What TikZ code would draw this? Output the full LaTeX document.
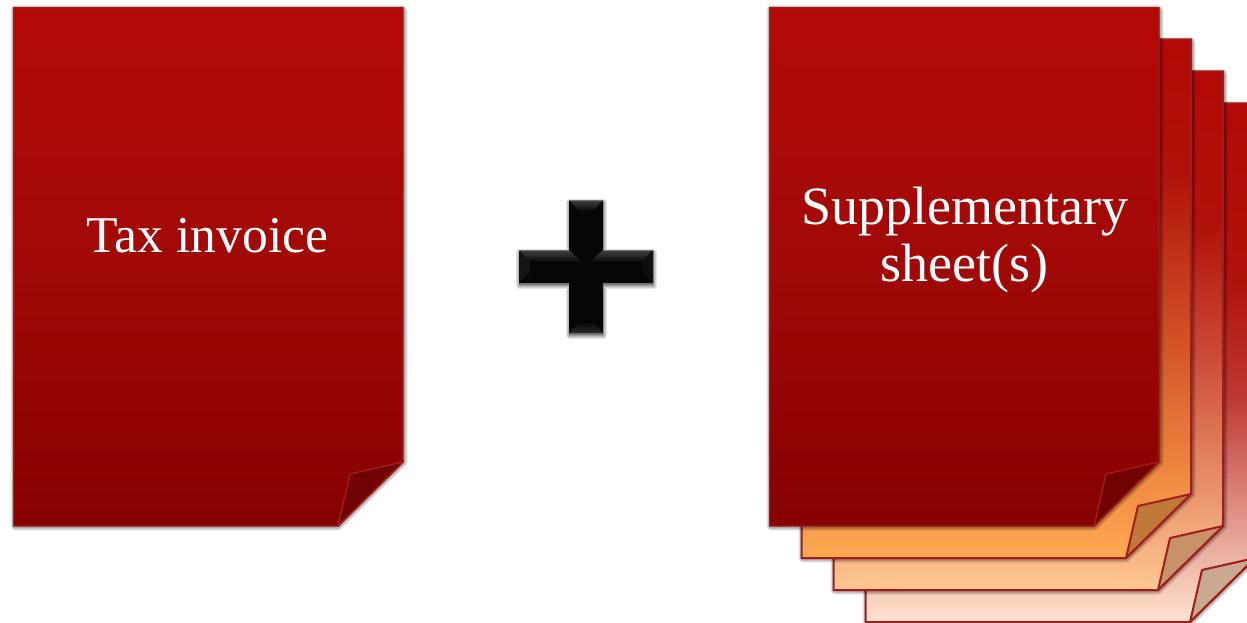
\documentclass[tikz,border=0pt]{standalone}
\usepackage{fontspec}
\setmainfont{Liberation Serif}
\definecolor{topRed}{RGB}{180,9,6}
\definecolor{nearRed}{RGB}{176,18,10}
\definecolor{midA}{RGB}{160,9,7}
\definecolor{botA}{RGB}{134,1,1}
\definecolor{botB}{RGB}{255,170,82}
\definecolor{midB}{RGB}{208,78,36}
\definecolor{botC}{RGB}{255,200,146}
\definecolor{midC}{RGB}{205,78,58}
\definecolor{botD}{RGB}{255,228,208}
\definecolor{midD}{RGB}{190,55,50}
\definecolor{bevLight}{RGB}{66,66,66}
\definecolor{bevLow}{RGB}{44,44,44}
\definecolor{bevDark}{RGB}{6,6,6}
\pgfdeclareverticalshading{sheetA}{100bp}{color(0bp)=(botA); color(25bp)=(botA); color(50bp)=(midA); color(75bp)=(topRed); color(100bp)=(topRed)}
\pgfdeclareverticalshading{sheetB}{100bp}{color(0bp)=(botB); color(25bp)=(botB); color(47bp)=(midB); color(62bp)=(nearRed); color(75bp)=(topRed); color(100bp)=(topRed)}
\pgfdeclareverticalshading{sheetC}{100bp}{color(0bp)=(botC); color(25bp)=(botC); color(47bp)=(midC); color(60bp)=(nearRed); color(75bp)=(topRed); color(100bp)=(topRed)}
\pgfdeclareverticalshading{sheetD}{100bp}{color(0bp)=(botD); color(25bp)=(botD); color(47bp)=(midD); color(58bp)=(nearRed); color(75bp)=(topRed); color(100bp)=(topRed)}
\pgfdeclareverticalshading{bevelDown}{100bp}{color(0bp)=(bevDark); color(25bp)=(bevDark); color(75bp)=(bevLight); color(100bp)=(bevLight)}
\pgfdeclareverticalshading{bevelUp}{100bp}{color(0bp)=(bevLow); color(25bp)=(bevLow); color(75bp)=(bevDark); color(100bp)=(bevDark)}
\definecolor{edgeRed}{RGB}{163,28,28}
\definecolor{foldA}{RGB}{112,1,1}
\definecolor{foldB}{RGB}{192,120,56}
\definecolor{foldC}{RGB}{200,146,104}
\definecolor{foldD}{RGB}{200,168,144}
\tikzset{
  labeltext/.style={text=white,align=center,inner sep=0pt},
  softshadow/.style={fill=black,draw=black,line join=round,opacity=.1},
}
% #1 x, #2 y of the top-left corner, #3 shading, #4 fold colour, #5 line width
\newcommand{\papersheet}[5]{%
  \begin{scope}[shift={(#1,#2)}]
    \foreach \w in {9,7,5,3,1}{
      \path[softshadow,line width=\w pt] (2,3) -- (390,3) -- (390,455) -- (325,519) -- (2,519) -- cycle;
    }
    \path[shading=#3,draw=edgeRed,line width=#5pt,line join=miter] (0.5,0.5) -- (390,0.5) -- (390,455) -- (325,519) -- (0.5,519) -- cycle;
    \path[fill=#4,draw=edgeRed,line width=#5pt,line join=round] (325,519) -- (337,467) -- (390,455) -- cycle;
  \end{scope}}
\begin{document}
\begin{tikzpicture}[x=1pt,y=-1pt]
  \useasboundingbox (0,0) rectangle (1247,623);
  \begin{scope}
    \clip (0,0) rectangle (1247,623);
    \papersheet{865}{103}{sheetD}{foldD}{2}
    \papersheet{833}{71}{sheetC}{foldC}{2}
    \papersheet{801}{39}{sheetB}{foldB}{2}
    \papersheet{769}{7}{sheetA}{foldA}{1.4}
    \papersheet{13}{7}{sheetA}{foldA}{1.4}
  \end{scope}
  % plus sign
  \foreach \w in {7,5,3,1}{
    \path[softshadow,line width=\w pt] (569,202) -- (603,202) -- (603,252) -- (653,252) -- (653,285) -- (603,285) -- (603,335) -- (569,335) -- (569,285) -- (519,285) -- (519,252) -- (569,252) -- cycle;
  }
  \fill[black!98] (569,200) -- (603,200) -- (603,250) -- (653,250) -- (653,283) -- (603,283) -- (603,333) -- (569,333) -- (569,283) -- (519,283) -- (519,250) -- (569,250) -- cycle;
  \path[shading=bevelDown] (569,200) -- (603,200) -- (593,211) -- (579,211) -- cycle;
  \path[shading=bevelDown] (519,250) -- (569,250) -- (582,262) -- (530,262) -- cycle;
  \path[shading=bevelDown] (603,250) -- (653,250) -- (642,262) -- (590,262) -- cycle;
  \path[shading=bevelUp] (569,333) -- (603,333) -- (593,322) -- (579,322) -- cycle;
  \fill[black!92] (519,250) -- (530,262) -- (530,272) -- (519,283) -- cycle;
  \fill[black!94] (653,250) -- (642,262) -- (642,272) -- (653,283) -- cycle;
  \path[draw=black!55,line width=.5pt] (569,200) -- (603,200) (519,250) -- (569,250) (603,250) -- (653,250);
  % labels
  \node[labeltext,font=\fontsize{51.6}{57}\selectfont] (invoice) at (207.5,236) {Tax invoice};
  \node[labeltext,font=\fontsize{54}{57}\selectfont] (supp) at (964.5,240.5) {Supplementary\\sheet(s)};
\end{tikzpicture}
\end{document}
